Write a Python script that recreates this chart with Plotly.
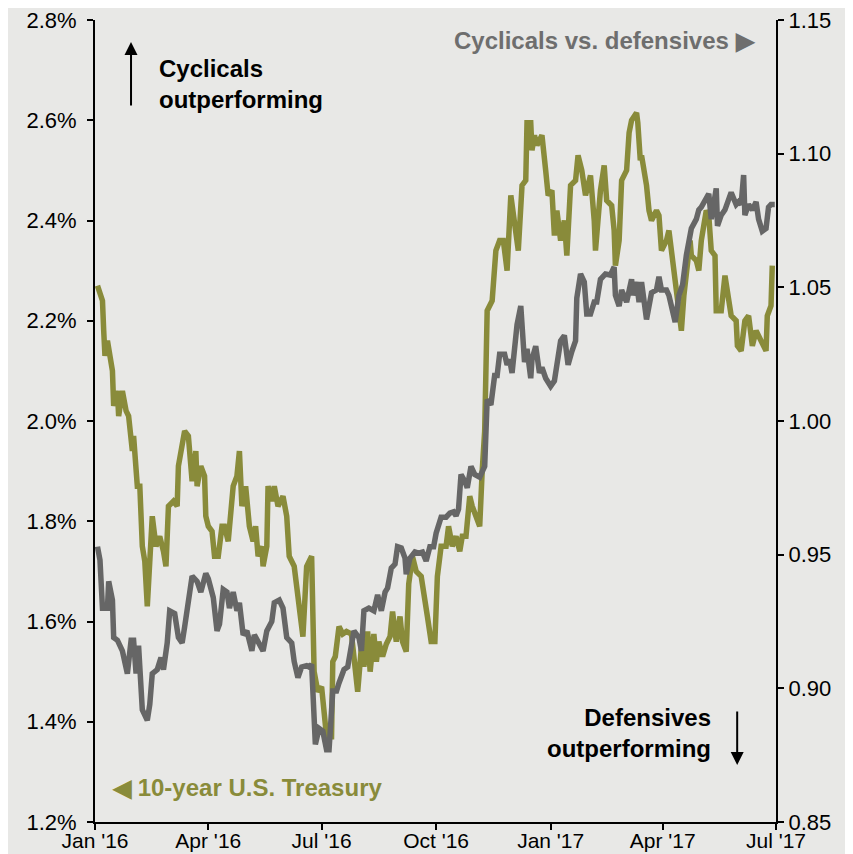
import pandas as pd
import plotly.graph_objects as go

BASE = pd.Timestamp("2016-01-01")

# 10-year U.S. Treasury yield (%), days since 2016-01-01
tsy_days = [2, 6, 7, 8, 10, 14, 15, 18, 19, 22, 25, 27, 30, 31, 34, 36, 38, 40, 42, 44,
            46, 49, 52, 55, 57, 59, 63, 66, 67, 72, 75, 78, 81, 82, 85, 88, 89, 91, 94, 96,
            99, 102, 104, 107, 111, 114, 116, 118, 121, 124, 127, 129, 131, 134, 135, 138, 139, 142, 144, 147,
            151, 154, 156, 160, 164, 167, 170, 174, 176, 179, 182, 186, 190, 191, 193, 196, 199, 202, 206, 208,
            211, 214, 216, 219, 221, 224, 226, 228, 231, 234, 237, 239, 242, 245, 247, 250, 252, 255, 258, 262,
            265, 267, 270, 273, 275, 278, 282, 284, 287, 290, 293, 295, 298, 301, 303, 306, 309, 311, 313, 315,
            319, 322, 325, 328, 331, 334, 337, 340, 343, 346, 347, 350, 351, 353, 355, 359, 362, 364, 367, 369,
            371, 374, 377, 379, 382, 386, 388, 391, 394, 398, 401, 402, 406, 409, 411, 415, 417, 418, 421, 423,
            427, 429, 431, 435, 436, 438, 439, 443, 445, 447, 451, 453, 455, 459, 461, 463, 467, 468, 471, 473,
            475, 478, 479, 483, 485, 487, 491, 493, 495, 498, 499, 503, 506, 508, 511, 515, 516, 519, 522, 525,
            528, 531, 533, 536, 539, 540, 543, 544]
tsy_vals = [2.27, 2.24, 2.18, 2.13, 2.16, 2.10, 2.03, 2.06, 2.01, 2.06, 2.02, 2.01, 1.94, 1.97, 1.87, 1.87, 1.75, 1.72, 1.63, 1.75,
            1.81, 1.75, 1.77, 1.74, 1.71, 1.83, 1.84, 1.83, 1.91, 1.98, 1.97, 1.88, 1.94, 1.87, 1.91, 1.89, 1.81, 1.79, 1.78, 1.73,
            1.73, 1.79, 1.79, 1.76, 1.87, 1.89, 1.94, 1.83, 1.87, 1.79, 1.76, 1.79, 1.73, 1.75, 1.71, 1.75, 1.87, 1.84, 1.87, 1.83,
            1.85, 1.81, 1.73, 1.71, 1.62, 1.57, 1.71, 1.73, 1.50, 1.46, 1.47, 1.37, 1.37, 1.52, 1.53, 1.59, 1.575, 1.58, 1.575, 1.52,
            1.46, 1.55, 1.51, 1.58, 1.50, 1.575, 1.52, 1.56, 1.53, 1.555, 1.57, 1.62, 1.56, 1.61, 1.56, 1.54, 1.675, 1.73, 1.70, 1.69,
            1.63, 1.61, 1.56, 1.56, 1.69, 1.75, 1.75, 1.79, 1.75, 1.77, 1.74, 1.77, 1.77, 1.85, 1.83, 1.81, 1.79, 1.90, 1.98, 2.22,
            2.24, 2.34, 2.36, 2.36, 2.30, 2.45, 2.39, 2.34, 2.47, 2.48, 2.595, 2.595, 2.54, 2.57, 2.55, 2.57, 2.50, 2.45, 2.46, 2.37,
            2.42, 2.36, 2.40, 2.33, 2.47, 2.48, 2.53, 2.50, 2.45, 2.49, 2.40, 2.34, 2.46, 2.51, 2.44, 2.43, 2.38, 2.31, 2.36, 2.48,
            2.50, 2.575, 2.60, 2.615, 2.595, 2.52, 2.53, 2.47, 2.42, 2.40, 2.42, 2.41, 2.34, 2.36, 2.38, 2.34, 2.26, 2.22, 2.18, 2.25,
            2.29, 2.36, 2.33, 2.32, 2.30, 2.36, 2.42, 2.41, 2.34, 2.33, 2.22, 2.22, 2.29, 2.25, 2.21, 2.20, 2.15, 2.14, 2.20, 2.21,
            2.15, 2.18, 2.17, 2.15, 2.14, 2.21, 2.23, 2.31]

# Cyclicals vs. defensives relative performance, days since 2016-01-01
cyc_days = [2, 4, 6, 10, 11, 14, 15, 18, 22, 26, 29, 31, 33, 35, 38, 42, 44, 46, 50, 53,
            55, 58, 60, 64, 67, 70, 72, 75, 78, 82, 85, 89, 91, 95, 98, 100, 103, 106, 108, 111,
            114, 116, 119, 122, 126, 128, 131, 135, 138, 142, 144, 148, 151, 154, 158, 160, 163, 166, 170, 172,
            174, 177, 180, 183, 186, 188, 191, 194, 196, 200, 203, 206, 208, 212, 214, 216, 220, 224, 227, 230,
            233, 235, 238, 241, 243, 246, 249, 250, 253, 257, 260, 263, 266, 269, 272, 274, 278, 282, 285, 288,
            290, 292, 294, 297, 299, 302, 305, 309, 313, 315, 318, 321, 323, 325, 329, 331, 333, 335, 337, 339,
            342, 343, 345, 347, 350, 351, 354, 357, 359, 362, 366, 369, 371, 374, 377, 378, 380, 383, 386, 387,
            390, 393, 395, 398, 401, 403, 406, 410, 414, 417, 418, 421, 423, 427, 431, 432, 435, 437, 439, 443,
            445, 447, 451, 453, 455, 459, 461, 463, 466, 469, 472, 475, 477, 479, 483, 485, 487, 491, 493, 495,
            499, 500, 503, 506, 509, 511, 515, 517, 519, 521, 522, 525, 528, 531, 533, 536, 539, 541, 543, 546]
cyc_vals = [0.953, 0.948, 0.930, 0.930, 0.940, 0.933, 0.919, 0.918, 0.914, 0.9055, 0.918, 0.918, 0.9055, 0.916, 0.892, 0.888, 0.894, 0.9055, 0.907, 0.9115,
            0.907, 0.917, 0.929, 0.928, 0.919, 0.917, 0.923, 0.933, 0.942, 0.940, 0.936, 0.943, 0.941, 0.934, 0.9215, 0.924, 0.937, 0.936, 0.930, 0.936,
            0.929, 0.932, 0.920, 0.9215, 0.914, 0.920, 0.917, 0.914, 0.9215, 0.925, 0.932, 0.933, 0.930, 0.919, 0.917, 0.910, 0.904, 0.908, 0.9085, 0.908,
            0.909, 0.879, 0.885, 0.884, 0.877, 0.877, 0.899, 0.899, 0.902, 0.907, 0.908, 0.915, 0.9215, 0.919, 0.914, 0.929, 0.930, 0.929, 0.935, 0.929,
            0.936, 0.9375, 0.945, 0.9465, 0.953, 0.9525, 0.9487, 0.9427, 0.9487, 0.951, 0.9506, 0.951, 0.9476, 0.953, 0.953, 0.958, 0.964, 0.964, 0.9655, 0.966,
            0.9645, 0.967, 0.980, 0.9775, 0.975, 0.983, 0.980, 0.979, 0.983, 1.008, 1.006, 1.017, 1.017, 1.025, 1.025, 1.021, 1.023, 1.018, 1.026, 1.036,
            1.043, 1.033, 1.022, 1.027, 1.016, 1.023, 1.028, 1.018, 1.020, 1.016, 1.013, 1.015, 1.021, 1.030, 1.032, 1.0285, 1.021, 1.026, 1.030, 1.046,
            1.055, 1.052, 1.040, 1.040, 1.0445, 1.0445, 1.053, 1.055, 1.0546, 1.0576, 1.047, 1.043, 1.049, 1.0445, 1.053, 1.047, 1.052, 1.0445, 1.052, 1.038,
            1.043, 1.048, 1.049, 1.054, 1.049, 1.049, 1.047, 1.043, 1.037, 1.047, 1.051, 1.062, 1.067, 1.072, 1.0755, 1.079, 1.080, 1.084, 1.085, 1.0755,
            1.087, 1.073, 1.077, 1.079, 1.084, 1.0855, 1.081, 1.082, 1.081, 1.092, 1.077, 1.081, 1.079, 1.082, 1.0755, 1.071, 1.072, 1.080, 1.081, 1.081]

x_tick_dates = ["2016-01-01", "2016-04-01", "2016-07-01", "2016-10-01", "2017-01-01", "2017-04-01", "2017-07-01"]
x_tick_labels = ["Jan '16", "Apr '16", "Jul '16", "Oct '16", "Jan '17", "Apr '17", "Jul '17"]
left_ticks = [1.2, 1.4, 1.6, 1.8, 2.0, 2.2, 2.4, 2.6, 2.8]
left_labels = ["1.2%", "1.4%", "1.6%", "1.8%", "2.0%", "2.2%", "2.4%", "2.6%", "2.8%"]
right_ticks = [0.85, 0.90, 0.95, 1.00, 1.05, 1.10, 1.15]
right_labels = ["0.85", "0.90", "0.95", "1.00", "1.05", "1.10", "1.15"]

GREEN = "#898b3a"
GRAY = "#666666"
BG = "#e8e8e6"
FONT = "Liberation Sans, Arial, sans-serif"

tsy_x = BASE + pd.to_timedelta(tsy_days, unit="D")
cyc_x = BASE + pd.to_timedelta(cyc_days, unit="D")

fig = go.Figure()
fig.add_trace(go.Scatter(x=cyc_x, y=cyc_vals, mode="lines", yaxis="y2",
                         line=dict(color=GRAY, width=5.5), name="Cyclicals vs. defensives"))
fig.add_trace(go.Scatter(x=tsy_x, y=tsy_vals, mode="lines", yaxis="y",
                         line=dict(color=GREEN, width=5.5), name="10-year U.S. Treasury"))

axis_common = dict(showgrid=False, zeroline=False, showline=True, linecolor="black", linewidth=2,
                   ticks="outside", ticklen=6, tickwidth=2, tickcolor="black", automargin=False,
                   ticklabeloverflow="allow")
tickfont = dict(family=FONT, size=22, color="black")

# page body has an 8px margin: figure is 845x846 and placed at (8, 8)
fig.update_layout(
    width=845, height=846,
    margin=dict(l=87, r=77, t=12, b=32),
    paper_bgcolor=BG, plot_bgcolor=BG,
    showlegend=False,
    font=dict(family=FONT),
    xaxis=dict(type="date", range=["2016-01-01", "2017-07-01"],
               tickvals=x_tick_dates, ticktext=x_tick_labels, ticklabelstandoff=-7,
               tickfont=dict(family=FONT, size=21, color="black"), **axis_common),
    yaxis=dict(range=[1.2, 2.8], tickvals=left_ticks, ticktext=left_labels,
               ticklabelstandoff=6, tickfont=tickfont, **axis_common),
    yaxis2=dict(range=[0.85, 1.15], tickvals=right_ticks, ticktext=right_labels,
                overlaying="y", side="right", tickfont=tickfont, **axis_common),
)

bold = dict(family=FONT, size=24)
fig.add_annotation(x=0.0529, y=0.9726, xref="paper", yref="paper", text="", showarrow=True,
                   ax=0, ay=65, arrowhead=2, arrowsize=1.3, arrowwidth=2, arrowcolor="black")
fig.add_annotation(x=0.091, y=0.9202, xref="paper", yref="paper",
                   text="<b>Cyclicals<br>outperforming</b>", showarrow=False,
                   xanchor="left", yanchor="middle", align="left", font=dict(color="black", **bold))
fig.add_annotation(x=0.9736, y=0.975, xref="paper", yref="paper",
                   text="<b>Cyclicals vs. defensives ▶</b>", showarrow=False,
                   xanchor="right", yanchor="middle", font=dict(color="#6e6e6e", **bold))
fig.add_annotation(x=0.943, y=0.0711, xref="paper", yref="paper", text="", showarrow=True,
                   ax=0, ay=-55, arrowhead=2, arrowsize=1.3, arrowwidth=2, arrowcolor="black")
fig.add_annotation(x=0.9075, y=0.111, xref="paper", yref="paper",
                   text="<b>Defensives<br>outperforming</b>", showarrow=False,
                   xanchor="right", yanchor="middle", align="right", font=dict(color="black", **bold))
fig.add_annotation(x=0.022, y=0.0436, xref="paper", yref="paper",
                   text="<b>◀ 10-year U.S. Treasury</b>", showarrow=False,
                   xanchor="left", yanchor="middle", font=dict(color=GREEN, **bold))

fig.write_html("out.html")
